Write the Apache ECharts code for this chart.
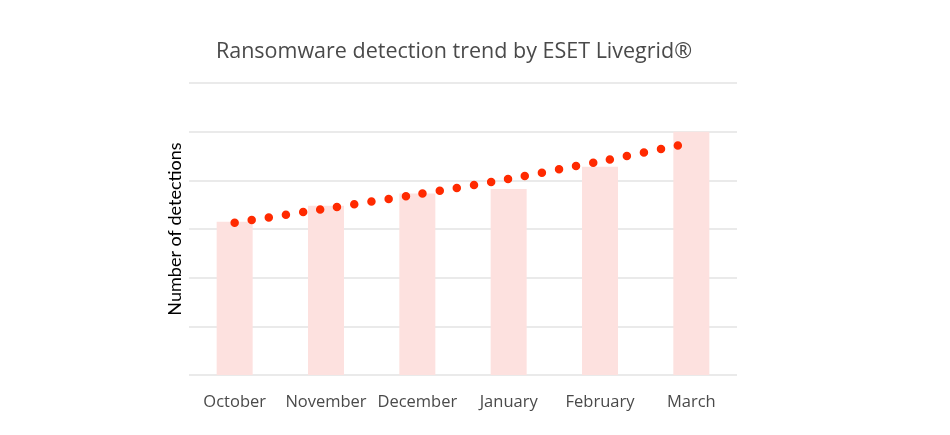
<!DOCTYPE html>
<html>
<head>
<meta charset="utf-8">
<script src="https://cdn.jsdelivr.net/npm/echarts@6/dist/echarts.min.js"></script>
<style>html,body{margin:0;padding:0;background:#fff}#c{width:950px;height:435px}</style>
</head>
<body>
<div id="c"></div>
<script>
var categories = ['October', 'November', 'December', 'January', 'February', 'March'];
var detections = [3.15, 3.48, 3.73, 3.82, 4.28, 5.0];
var trend = [3.13, 3.42, 3.71, 4.03, 4.39, 4.77];
var yTicks = [0, 1, 2, 3, 4, 5, 6];

var chart = echarts.init(document.getElementById('c'));
chart.setOption({
  animation: false,
  title: {
    text: 'Ransomware detection trend by ESET Livegrid®',
    left: 449, top: 36, textAlign: 'center',
    textStyle: { fontFamily: 'Open Sans', fontSize: 21.5, fontWeight: 'normal', color: '#4a4a4a' }
  },
  grid: { left: 189, right: 213, top: 83, bottom: 60 },
  xAxis: {
    type: 'category', data: categories,
    axisLine: { show: false }, axisTick: { show: false },
    axisLabel: { fontFamily: 'Open Sans', fontSize: 16.5, color: '#4a4a4a', margin: 19, interval: 0 }
  },
  yAxis: {
    type: 'value', min: yTicks[0], max: yTicks[yTicks.length - 1], interval: 1,
    axisLabel: { show: false }, axisLine: { show: false }, axisTick: { show: false },
    splitLine: { lineStyle: { color: '#e3e3e3', width: 1.5 } },
    name: 'Number of detections', nameLocation: 'middle', nameGap: 5, nameRotate: 90,
    nameTextStyle: { fontFamily: 'Lato', fontSize: 18, color: '#000000' }
  },
  series: [
    {
      type: 'bar', data: detections, barWidth: 36,
      itemStyle: { color: '#fde1df' }
    },
    {
      type: 'line', data: trend, smooth: 0.3, symbol: 'none',
      lineStyle: { color: '#ff2a00', width: 8.5, type: [0, 17.3], cap: 'round' }
    }
  ]
});
</script>
</body>
</html>
